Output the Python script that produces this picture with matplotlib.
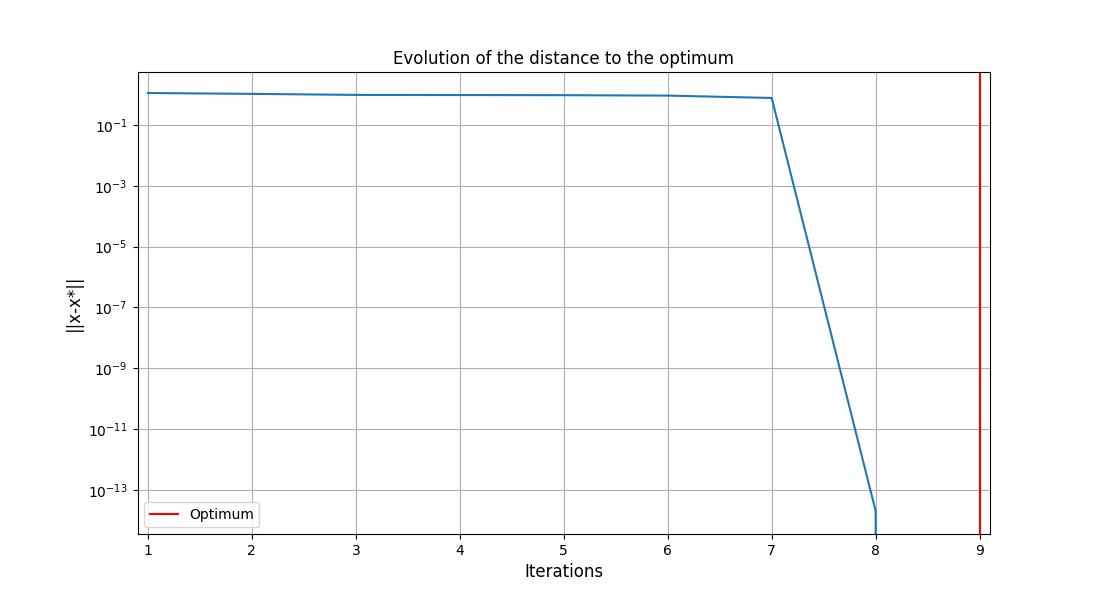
import matplotlib
matplotlib.use('Agg')
import matplotlib.pyplot as plt
import numpy as np

# distance to the optimum at each iteration (last one is exactly 0)
iterations = [1, 2, 3, 4, 5, 6, 7, 8, 9]
distances = [1.12, 1.05, 0.97, 0.96, 0.95, 0.92, 0.77, 2e-14, 0.0]
optimum_iter = 9

fig, ax = plt.subplots(figsize=(11, 6), dpi=100)

ax.plot(iterations, distances)
ax.axvline(optimum_iter, color='red', label='Optimum')
ax.set_yscale('log', nonpositive='clip')

ax.set_xlim(0.9, 9.1)
ax.set_ylim(3.5e-15, 5.5)
ax.set_yticks([1e-13, 1e-11, 1e-9, 1e-7, 1e-5, 1e-3, 1e-1])
ax.set_xticks(range(1, 10))

ax.set_title('Evolution of the distance to the optimum', fontsize=12)
ax.set_xlabel('Iterations', fontsize=12)
ax.set_ylabel('||x-x*||', fontsize=12)
ax.grid(True)
ax.legend(loc='lower left')

plt.savefig('out.png')
